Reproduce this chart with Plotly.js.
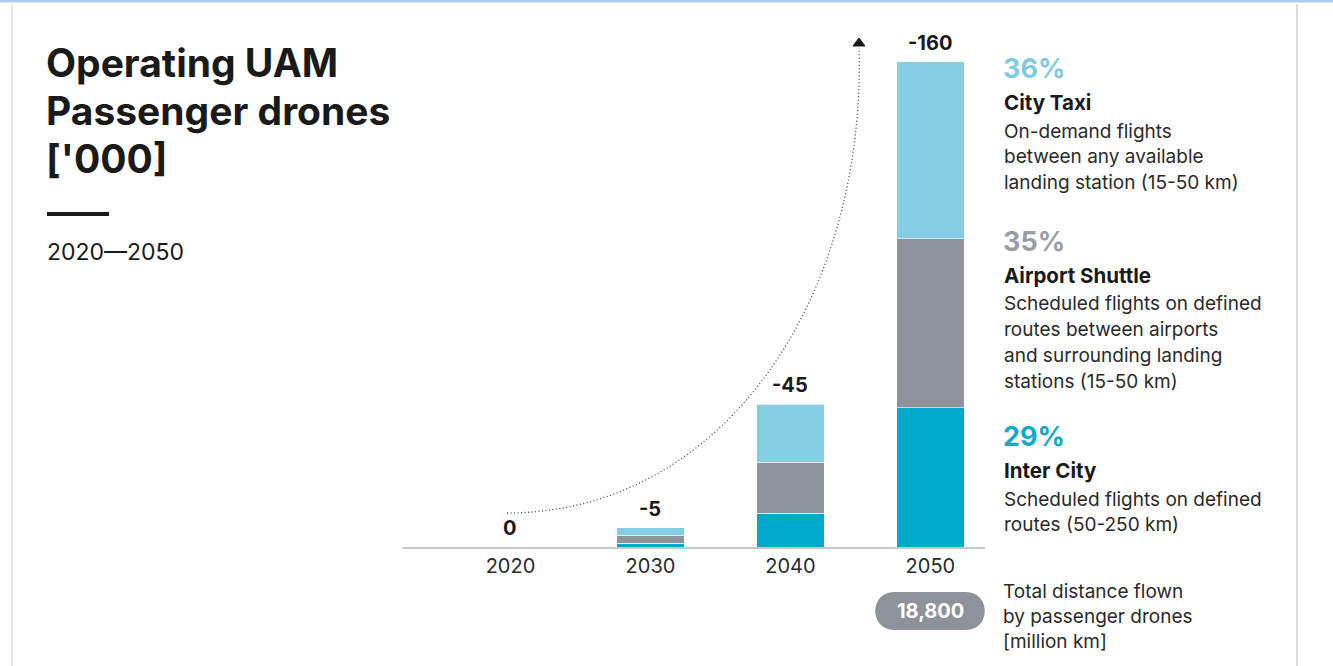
<!DOCTYPE html>
<html>
<head>
<meta charset="utf-8">
<script src="https://cdn.plot.ly/plotly-3.0.1.min.js"></script>
<style>html,body{margin:0;padding:0;background:#fff;}#chart{width:1333px;height:666px;}</style>
</head>
<body>
<div id="chart"></div>
<script>
// ---- data ----
const years = ['2020', '2030', '2040', '2050'];
const interCity = [0, 1.3, 11.2, 45.9];
const airportShuttle = [0, 2.6, 16.8, 55.8];
const cityTaxi = [0, 2.5, 19.1, 58.4];
const totalLabels = ['0', '-5', '-45', '-160'];
const segmentNames = ['City Taxi', 'Airport Shuttle', 'Inter City'];
const segmentShares = ['36%', '35%', '29%'];
const segmentDescriptions = [
  ['On-demand flights', 'between any available', 'landing station (15-50 km)'],
  ['Scheduled flights on defined', 'routes between airports', 'and surrounding landing', 'stations (15-50 km)'],
  ['Scheduled flights on defined', 'routes (50-250 km)']
];
const distanceValue = '18,800';
const distanceLabel = ['Total distance flown', 'by passenger drones', '[million km]'];
const titleLines = ['Operating UAM', 'Passenger drones', "['000]"];
const subtitle = '2020\u20142050';

// ---- layout helpers ----
const W = 1333, H = 666;
const M = {l: 402, r: 348, t: 26, b: 119};
const PW = W - M.l - M.r, PH = H - M.t - M.b;
const px = x => (x - M.l) / PW;
const py = y => (H - M.b - y) / PH;

const C_TAXI = '#84cde3', C_SHUTTLE = '#8e9399', C_INTER = '#00a9cc';
const FONT = 'Inter, "Open Sans", sans-serif';

const barLine = {color: '#ffffff', width: 0.6};
const traces = [
  {type: 'bar', name: 'Inter City', x: years, y: interCity, marker: {color: C_INTER, line: barLine}, hoverinfo: 'skip'},
  {type: 'bar', name: 'Airport Shuttle', x: years, y: airportShuttle, marker: {color: C_SHUTTLE, line: barLine}, hoverinfo: 'skip'},
  {type: 'bar', name: 'City Taxi', x: years, y: cityTaxi, marker: {color: C_TAXI, line: barLine}, hoverinfo: 'skip'}
];

const annotations = [];
// totals above bars (category index position)
years.forEach((yr, i) => {
  const tot = interCity[i] + airportShuttle[i] + cityTaxi[i];
  annotations.push({x: i, y: tot, xref: 'x', yref: 'y', text: '<b>' + totalLabels[i] + '</b>',
    showarrow: false, yanchor: 'bottom', yshift: 5, font: {family: FONT, size: 20, color: '#1a1a1a'}});
});
// title block
titleLines.forEach((t, i) => {
  annotations.push({xref: 'paper', yref: 'paper', x: px(44), y: py(62 + i * 48), xanchor: 'left', yanchor: 'middle',
    text: '<b>' + t + '</b>', showarrow: false, font: {family: FONT, size: 39, color: '#1a1a1a'}});
});
annotations.push({xref: 'paper', yref: 'paper', x: px(45), y: py(252), xanchor: 'left', yanchor: 'middle',
  text: subtitle, showarrow: false, font: {family: FONT, size: 23, color: '#1a1a1a'}});

// right-side legend text
const shareColors = ['#7ecbe2', '#9a9ea3', '#12aacb'];
const blockTops = [68, 241, 436];
segmentNames.forEach((name, i) => {
  const y0 = blockTops[i];
  annotations.push({xref: 'paper', yref: 'paper', x: px(1001), y: py(y0), xanchor: 'left', yanchor: 'middle',
    text: '<b>' + segmentShares[i] + '</b>', showarrow: false, font: {family: FONT, size: 27, color: shareColors[i]}});
  annotations.push({xref: 'paper', yref: 'paper', x: px(1002), y: py(y0 + 34), xanchor: 'left', yanchor: 'middle',
    text: '<b>' + name + '</b>', showarrow: false, font: {family: FONT, size: 20.5, color: '#1a1a1a'}});
  segmentDescriptions[i].forEach((line, j) => {
    annotations.push({xref: 'paper', yref: 'paper', x: px(1002), y: py(y0 + 63 + j * 25.8), xanchor: 'left', yanchor: 'middle',
      text: line, showarrow: false, font: {family: FONT, size: 19, color: '#2a2a2a'}});
  });
});
distanceLabel.forEach((line, j) => {
  annotations.push({xref: 'paper', yref: 'paper', x: px(1001), y: py(591 + j * 25), xanchor: 'left', yanchor: 'middle',
    text: line, showarrow: false, font: {family: FONT, size: 19, color: '#2a2a2a'}});
});
annotations.push({xref: 'paper', yref: 'paper', x: px(930.5), y: py(611), xanchor: 'center', yanchor: 'middle',
  text: '<b>' + distanceValue + '</b>', showarrow: false, font: {family: FONT, size: 20, color: '#ffffff'}});

// shapes
function P(x, y) { return px(x).toFixed(5) + ',' + py(y).toFixed(5); }
const shapes = [
  // frame
  {type: 'line', xref: 'paper', yref: 'paper', x0: px(0), x1: px(W), y0: py(1), y1: py(1), line: {color: '#b3c9ea', width: 3}},
  {type: 'line', xref: 'paper', yref: 'paper', x0: px(12), x1: px(12), y0: py(4), y1: py(H), line: {color: '#e2e2e2', width: 1.5}},
  {type: 'line', xref: 'paper', yref: 'paper', x0: px(1297), x1: px(1297), y0: py(4), y1: py(H), line: {color: '#dcdcdc', width: 2}},
  // title rule
  {type: 'line', xref: 'paper', yref: 'paper', x0: px(47), x1: px(109), y0: py(214), y1: py(214), line: {color: '#1a1a1a', width: 4}},
  // dotted growth curve
  {type: 'path', xref: 'paper', yref: 'paper',
   path: 'M' + P(507, 513) + ' C' + P(722, 513) + ' ' + P(866, 300) + ' ' + P(859, 48),
   line: {color: '#444444', width: 1.3, dash: '1px,2.5px'}},
  // arrowhead
  {type: 'path', xref: 'paper', yref: 'paper',
   path: 'M' + P(853, 46) + ' L' + P(865, 46) + ' L' + P(859, 38) + ' Z',
   fillcolor: '#1a1a1a', line: {color: '#1a1a1a', width: 1}},
  // pill
  {type: 'path', xref: 'paper', yref: 'paper',
   path: 'M' + P(894, 592) + ' L' + P(966, 592) + ' C' + P(991, 592) + ' ' + P(991, 630) + ' ' + P(966, 630) +
         ' L' + P(894, 630) + ' C' + P(869, 630) + ' ' + P(869, 592) + ' ' + P(894, 592) + ' Z',
   fillcolor: '#8e9399', line: {width: 0}}
];

const layout = {
  width: W, height: H,
  margin: M,
  paper_bgcolor: '#ffffff', plot_bgcolor: '#ffffff',
  barmode: 'stack', bargap: 0.52,
  showlegend: false,
  font: {family: FONT, color: '#1a1a1a'},
  xaxis: {type: 'category', categoryorder: 'array', categoryarray: years, range: [-0.775, 3.39],
    showline: true, linecolor: '#c8c8c8', linewidth: 1.5, ticks: '', showgrid: false, zeroline: false,
    tickfont: {family: FONT, size: 20, color: '#2a2a2a'}, fixedrange: true},
  yaxis: {visible: false, range: [0, PH / (485 / 160)], fixedrange: true, showgrid: false, zeroline: false},
  annotations: annotations,
  shapes: shapes
};

Plotly.newPlot('chart', traces, layout, {displayModeBar: false, staticPlot: true});
</script>
</body>
</html>
